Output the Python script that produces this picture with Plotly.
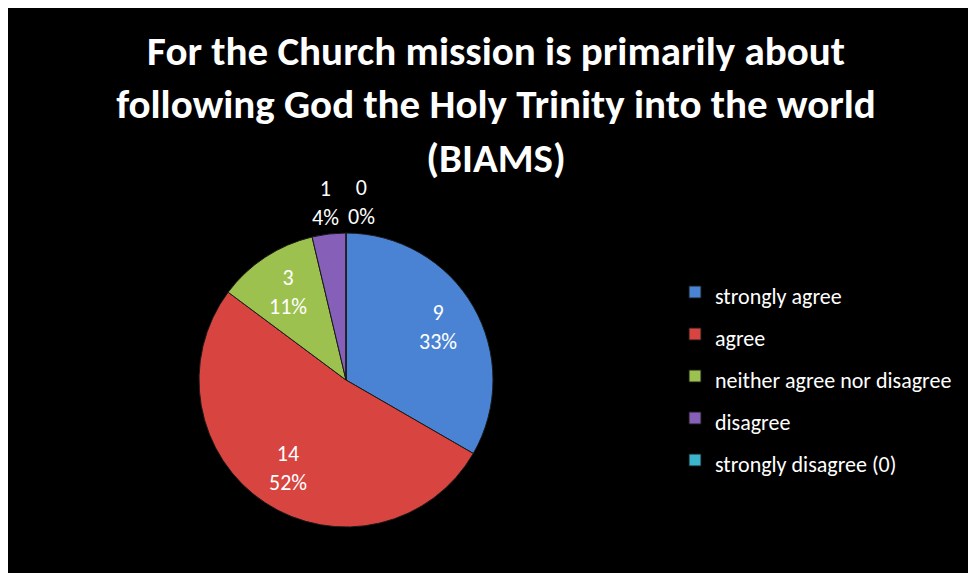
import math
import plotly.graph_objects as go

categories = ["strongly agree", "agree", "neither agree nor disagree", "disagree", "strongly disagree (0)"]
values = [9, 14, 3, 1, 0]
colors = ["#4a83d4", "#d8443f", "#9cc14e", "#8660b8", "#3cb4cc"]
label_inside = [True, True, True, False, False]
title_lines = ["For the Church mission is primarily about",
               "following God the Holy Trinity into the world",
               "(BIAMS)"]

W, H = 976, 573
FONT = "Carlito, Lato, 'Open Sans', sans-serif"

# pie geometry (figure pixels)
CX, CY, R = 338, 372, 147

legend_labels = ['<span style="font-size:22px">%s</span>' % c for c in categories]

fig = go.Figure()
fig.add_trace(go.Pie(
    labels=legend_labels,
    values=values,
    sort=False,
    direction="clockwise",
    rotation=0,
    marker=dict(colors=colors, line=dict(color="#1a1a1a", width=1)),
    textinfo="none",
    domain=dict(x=[(CX - R) / W, (CX + R) / W], y=[1 - (CY + R) / H, 1 - (CY - R) / H]),
    hoverinfo="label+value+percent",
    showlegend=True,
))

# data labels: value and percent, placed along each slice's mid-angle
total = sum(values)
cum = 0
annotations = []
for v, inside in zip(values, label_inside):
    frac_mid = ((cum + v / 2) / total) % 1.0
    cum += v
    ang = 2 * math.pi * frac_mid
    rr = 0.72 * R if inside else 1.21 * R
    px = CX + rr * math.sin(ang)
    py = CY - rr * math.cos(ang)
    anchor = "center" if (inside or v > 0) else "left"
    annotations.append(dict(
        x=px / W, y=1 - py / H, xref="paper", yref="paper",
        text="%d<br>%d%%" % (v, round(100 * v / total)),
        showarrow=False, xanchor=anchor, yanchor="middle",
        font=dict(family=FONT, size=22, color="white"),
    ))

fig.update_layout(
    width=W, height=H,
    margin=dict(l=0, r=0, t=0, b=0),
    paper_bgcolor="black",
    plot_bgcolor="black",
    title=dict(
        text="<b>" + "<br>".join(title_lines) + "</b>",
        x=488 / W, xanchor="center",
        y=1 - 57 / H, yanchor="middle",
        font=dict(family=FONT, size=41, color="white"),
    ),
    legend=dict(
        x=667 / W, xanchor="left",
        y=1 - 258 / H, yanchor="top",
        font=dict(family=FONT, size=30, color="white"),
        bgcolor="rgba(0,0,0,0)",
        traceorder="normal",
    ),
    annotations=annotations,
)

fig.write_html("out.html")
